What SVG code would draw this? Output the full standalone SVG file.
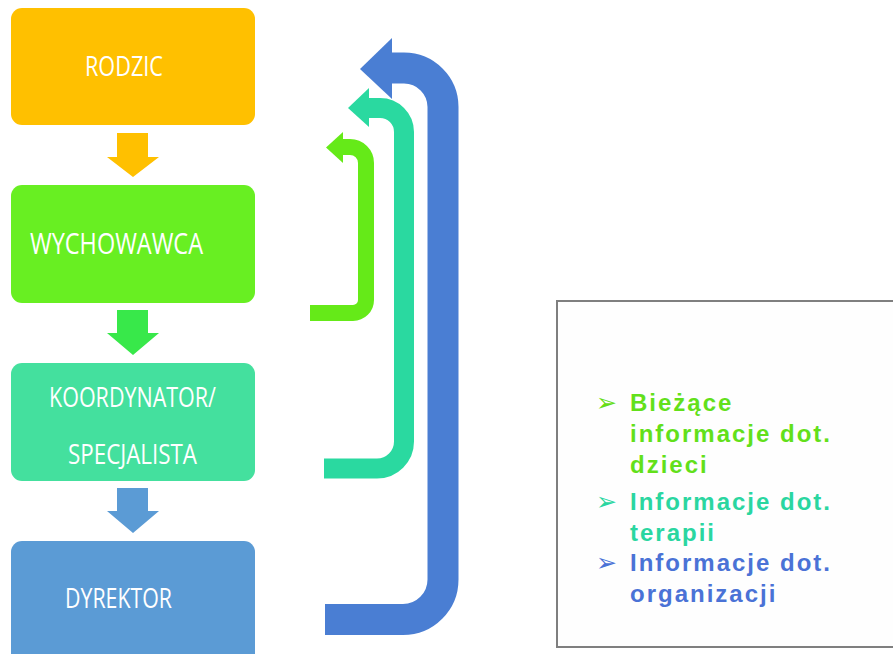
<svg xmlns="http://www.w3.org/2000/svg" width="893" height="654" viewBox="0 0 893 654">
<style>
.box{stroke:none}
.lbl{font-family:"Open Sans","Liberation Sans",sans-serif;font-size:27px;fill:#ffffff}
.info{font-family:"Liberation Sans",Arial,sans-serif;font-weight:bold;font-size:24px;letter-spacing:2px}
.bul{font-family:"DejaVu Sans",sans-serif;font-size:25px}
.loop{fill:none;stroke-linecap:butt;stroke-linejoin:round}
</style>
<rect width="893" height="654" fill="#ffffff"/>
<g id="rodzic">
<rect class="box" x="11" y="8" width="244" height="117" rx="11" fill="#FFC000"/>
<text class="lbl" x="85" y="76" textLength="78" lengthAdjust="spacingAndGlyphs">RODZIC</text>
</g>
<g id="wychowawca">
<rect class="box" x="11" y="185" width="244" height="118" rx="11" fill="#68EF22"/>
<text class="lbl" x="30" y="254" textLength="173" lengthAdjust="spacingAndGlyphs" style="font-size:29px">WYCHOWAWCA</text>
</g>
<g id="koordynator">
<rect class="box" x="11" y="363" width="244" height="118" rx="11" fill="#44E09E"/>
<text class="lbl" x="49" y="407" textLength="167" lengthAdjust="spacingAndGlyphs">KOORDYNATOR/</text>
<text class="lbl" x="68" y="464" textLength="129" lengthAdjust="spacingAndGlyphs">SPECJALISTA</text>
</g>
<g id="dyrektor">
<rect class="box" x="11" y="541" width="244" height="125" rx="11" fill="#5B9BD5"/>
<text class="lbl" x="65" y="608" textLength="107" lengthAdjust="spacingAndGlyphs">DYREKTOR</text>
</g>
<g id="connectors">
<polygon points="117,133 148,133 148,157 159,157 133,177 107,157 117,157" fill="#FFC000"/>
<polygon points="117,310 148,310 148,333 159,333 133,355 107,333 117,333" fill="#38E84A"/>
<polygon points="117,488 148,488 148,511 159,511 133,533 107,511 117,511" fill="#5B9BD5"/>
<path class="loop" d="M310,313 H353 A13,13 0 0 0 366,300 V163 A16,16 0 0 0 350,147 H341" stroke="#65EA18" stroke-width="16"/>
<polygon points="343,132 326,147.5 343,163" fill="#65EA18"/>
<path class="loop" d="M324,468.5 H377 A27,27 0 0 0 404,441.5 V132 A24,24 0 0 0 380,108 H367" stroke="#2AD9A0" stroke-width="20"/>
<polygon points="369,88 348,108 369,127" fill="#2AD9A0"/>
<path class="loop" d="M325,619.5 H403 A40,40 0 0 0 443,579.5 V107 A39,39 0 0 0 404,68 H390" stroke="#4A7ED3" stroke-width="31"/>
<polygon points="392,38 360,69 392,99" fill="#4A7ED3"/>
</g>
<g id="info">
<rect x="557" y="301" width="345" height="346" fill="#FEFEFE" stroke="#7F7F7F" stroke-width="2"/>
<text class="bul" x="596" y="411" fill="#65DD15">➢</text>
<text class="info" x="630" y="411" fill="#62E01A">Bieżące</text>
<text class="info" x="630" y="442" fill="#62E01A">informacje dot.</text>
<text class="info" x="630" y="473" fill="#62E01A">dzieci</text>
<text class="bul" x="596" y="510" fill="#2AD6A0">➢</text>
<text class="info" x="630" y="510" fill="#2AD6A0">Informacje dot.</text>
<text class="info" x="630" y="541" fill="#2AD6A0">terapii</text>
<text class="bul" x="596" y="571" fill="#4A72D6">➢</text>
<text class="info" x="630" y="571" fill="#4A72D6">Informacje dot.</text>
<text class="info" x="630" y="602" fill="#4A72D6">organizacji</text>
</g>
</svg>
